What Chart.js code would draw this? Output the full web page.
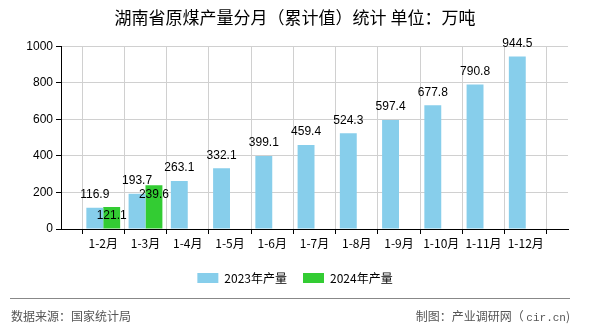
<!DOCTYPE html>
<html>
<head>
<meta charset="utf-8">
<script src="https://cdn.jsdelivr.net/npm/chart.js@4.4.1/dist/chart.umd.min.js"></script>
<style>
  body { margin: 0; background: #fff; }
  #wrap { position: relative; width: 590px; height: 330px; font-family: "Noto Sans CJK SC", sans-serif; }
  #line { position: absolute; left: 10px; top: 298px; width: 560px; height: 0; border-top: 1px solid #888; }
  .foot { position: absolute; top: 307px; font-size: 12px; color: #555; line-height: 18px; }
</style>
</head>
<body>
<div id="wrap">
  <canvas id="myChart" width="590" height="330"></canvas>
  <div id="line"></div>
  <div class="foot" style="left:11px">数据来源：国家统计局</div>
  <div class="foot" style="right:20px">制图：产业调研网（ <span style="font-family:'Liberation Mono',monospace;font-size:11px">cir.cn</span>)</div>
</div>
<script>
var months = ['1-2月', '1-3月', '1-4月', '1-5月', '1-6月', '1-7月', '1-8月', '1-9月', '1-10月', '1-11月', '1-12月'];
var output2023 = [116.9, 193.7, 263.1, 332.1, 399.1, 459.4, 524.3, 597.4, 677.8, 790.8, 944.5];
var output2024 = [121.1, 239.6];
var yTicks = [0, 200, 400, 600, 800, 1000];

// empty slot on each side so the labels sit on grid lines
var labels = [''].concat(months, ['']);
function pad(arr) {
    var out = [null];
    for (var i = 0; i < months.length; i++) out.push(i < arr.length ? arr[i] : null);
    out.push(null);
    return out;
}

var valueLabels = {
    id: 'valueLabels',
    afterDatasetsDraw: function (chart) {
        var ctx = chart.ctx;
        ctx.save();
        ctx.font = '12px "Liberation Sans", sans-serif';
        ctx.fillStyle = '#000';
        ctx.textAlign = 'center';
        ctx.textBaseline = 'middle';
        chart.data.datasets.forEach(function (ds, di) {
            var meta = chart.getDatasetMeta(di);
            meta.data.forEach(function (bar, i) {
                var v = ds.data[i];
                if (v == null) return;
                var y = di === 0 ? bar.y - 13 : bar.y + 9;
                ctx.fillText(v.toFixed(1), bar.x, y);
            });
        });
        ctx.restore();
    }
};

var ctx = document.getElementById('myChart').getContext('2d');
var myChart = new Chart(ctx, {
    type: 'bar',
    data: {
        labels: labels,
        datasets: [
            {
                label: '2023年产量',
                data: pad(output2023),
                backgroundColor: '#87ceeb',
                categoryPercentage: 0.8,
                barPercentage: 1.0,
            },
            {
                label: '2024年产量',
                data: pad(output2024),
                backgroundColor: '#33cc33',
                categoryPercentage: 0.8,
                barPercentage: 1.0,
            },
        ],
    },
    options: {
        responsive: false,
        animation: false,
        layout: { padding: { left: 0, right: 0, top: 0, bottom: 36 } },
        plugins: {
            title: {
                display: true,
                text: '湖南省原煤产量分月（累计值）统计 单位：万吨',
                color: '#000',
                font: { family: '"Noto Sans CJK SC", sans-serif', size: 17, weight: 'normal' },
                padding: { top: 7, bottom: 19 },
            },
            legend: {
                position: 'bottom',
                labels: {
                    boxWidth: 21,
                    boxHeight: 10,
                    padding: 16,
                    color: '#000',
                    font: { family: '"Noto Sans CJK SC", sans-serif', size: 12 },
                },
            },
            tooltip: { enabled: false },
        },
        scales: {
            x: {
                offset: false,
                afterFit: function (s) { s.height = 27; },
                grid: { color: '#d0d0d0', tickColor: '#000', tickLength: 5 },
                border: { color: '#000', width: 1 },
                ticks: {
                    color: '#000',
                    maxRotation: 0,
                    autoSkip: false,
                    padding: 2,
                    font: { family: '"Noto Sans CJK SC", sans-serif', size: 12 },
                },
            },
            y: {
                min: 0,
                max: 1000,
                afterFit: function (s) { s.width = 61; },
                afterBuildTicks: function (s) { s.ticks = yTicks.map(function (v) { return { value: v }; }); },
                grid: { color: '#d0d0d0', tickColor: '#000', tickLength: 5 },
                border: { color: '#000', width: 1 },
                ticks: {
                    color: '#000',
                    padding: 3,
                    callback: function (v) { return String(v); },
                    font: { family: '"Liberation Sans", sans-serif', size: 12 },
                },
            },
            // empty right-hand axis: keeps a blank margin so title and legend stay centred on the page
            yRight: {
                position: 'right',
                min: 0,
                max: 1000,
                afterFit: function (s) { s.width = 22; },
                grid: { display: false },
                border: { display: false },
                ticks: { display: false },
            },
        },
    },
    plugins: [valueLabels],
});
</script>
</body>
</html>
